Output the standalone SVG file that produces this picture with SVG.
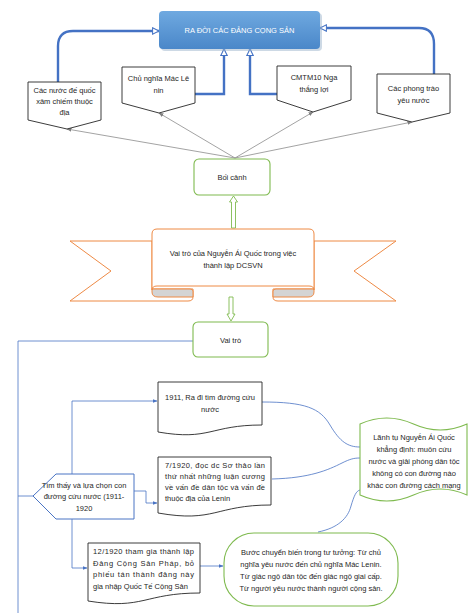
<svg xmlns="http://www.w3.org/2000/svg" width="474" height="613" viewBox="0 0 474 613">
<style>
text{font-family:"Liberation Sans",Arial,sans-serif;font-size:7.5px;fill:#262626}
.c{text-anchor:middle}
.w{fill:#ffffff}
.box{fill:#ffffff;stroke:#262626;stroke-width:0.9}
.gbox{fill:#ffffff;stroke:#7fba4f;stroke-width:1.1}
.orb{fill:#ffffff;stroke:#ee8a45;stroke-width:1}
.thick{fill:none;stroke:#4472c4;stroke-width:2.4}
.thin{fill:none;stroke:#4a74c4;stroke-width:0.8}
.gray{fill:none;stroke:#8c8c8c;stroke-width:0.8}
</style>
<defs>
<linearGradient id="bg" x1="0" y1="0" x2="0" y2="1">
<stop offset="0" stop-color="#6fa9e0"/>
<stop offset="1" stop-color="#4a87c9"/>
</linearGradient>
<marker id="open" viewBox="0 0 10 10" refX="9" refY="5" markerWidth="8" markerHeight="8" markerUnits="userSpaceOnUse" orient="auto">
<path d="M1,1 L9,5 L1,9 Z" fill="#ffffff" stroke="#4472c4" stroke-width="1.3"/>
</marker>
<marker id="ga" viewBox="0 0 10 10" refX="9" refY="5" markerWidth="5" markerHeight="5" markerUnits="userSpaceOnUse" orient="auto">
<path d="M0,1 L10,5 L0,9 Z" fill="#7f7f7f"/>
</marker>
<marker id="ba" viewBox="0 0 10 10" refX="9" refY="5" markerWidth="5" markerHeight="5" markerUnits="userSpaceOnUse" orient="auto">
<path d="M0,1 L10,5 L0,9 Z" fill="#4a74c4"/>
</marker>
</defs>
<rect width="474" height="613" fill="#ffffff"/>

<g id="connectors">
<path class="thick" d="M58,82 V46 Q58,31 73,31 H159" marker-end="url(#open)"/>
<path class="thick" d="M434,74 V44 Q434,28 419,28 H320" marker-end="url(#open)"/>
<path class="thick" d="M195,94 H224 V49" marker-end="url(#open)"/>
<path class="thick" d="M277,94 H250 V49" marker-end="url(#open)"/>
<path class="gray" d="M235,158 L67,129" marker-end="url(#ga)"/>
<path class="gray" d="M235,158 L159,113" marker-end="url(#ga)"/>
<path class="gray" d="M235,158 L313,112" marker-end="url(#ga)"/>
<path class="gray" d="M235,158 L412,122" marker-end="url(#ga)"/>
<path d="M231.5,228 V202 H229.5 L233.5,196 L237.5,202 H235.5 V228 Z" fill="#ffffff" stroke="#7fba4f" stroke-width="0.9"/>
<path d="M229,297 V314 H227 L231,321 L235,314 H233 V297 Z" fill="#ffffff" stroke="#7fba4f" stroke-width="0.9"/>
<path class="thin" d="M193,341 H18 V613"/>
<path class="thin" d="M18,496 H33"/>
<path class="thin" d="M72,474 V401 H157" marker-end="url(#ba)"/>
<path class="thin" d="M134,491 H146 V503 H157" marker-end="url(#ba)"/>
<path class="thin" d="M72,519 V568 H87" marker-end="url(#ba)"/>
<path class="thin" d="M200,566 H223" marker-end="url(#ba)"/>
<path class="thin" d="M262,402 C305,402 320,408 330,425 C340,442 348,447 360,447"/>
<path class="thin" d="M272,479 C310,478 328,470 342,463 C350,459 354,458 360,458"/>
<path class="thin" d="M318,532 C338,528 348,518 351,506 C354,496 356,491 360,490"/>
</g>

<g id="node-title">
<rect x="161" y="13" width="161" height="38" rx="4" fill="#9bb3cc" opacity="0.5"/>
<rect x="159" y="11" width="161" height="38" rx="4" fill="url(#bg)"/>
<text class="c w" x="239.5" y="33">RA ĐỜI CÁC ĐẢNG CỌNG SẢN</text>
</g>

<g id="node-1">
<path class="box" d="M28,82 H101 V120 L67,129 L28,120 Z"/>
<text class="c" x="64.5" y="93">Các nước đế quốc</text>
<text class="c" x="64.5" y="104">xâm chiếm thuộc</text>
<text class="c" x="64.5" y="115">địa</text>
</g>

<g id="node-2">
<path class="box" d="M122,67 H195 V103 L159,113 L122,103 Z"/>
<text class="c" x="158.5" y="81">Chủ nghĩa Mác Lê</text>
<text class="c" x="158.5" y="93">nin</text>
</g>

<g id="node-3">
<path class="box" d="M277,66 H351 V100 L313,112 L277,100 Z"/>
<text class="c" x="314" y="80">CMTM10 Nga</text>
<text class="c" x="314" y="92">thắng lợi</text>
</g>

<g id="node-4">
<path class="box" d="M377,74 H450 V113 L412,122 L377,113 Z"/>
<text class="c" x="413.5" y="91">Các phong trào</text>
<text class="c" x="413.5" y="103">yêu nước</text>
</g>

<g id="node-boicanh">
<rect class="gbox" x="194" y="159" width="76" height="36" rx="5"/>
<text class="c" x="232" y="180">Bối cảnh</text>
</g>

<g id="node-ribbon">
<path class="orb" d="M152,241 H70 L111,271 L70,301 H188 Q193,301 193,297 V289 H152 Z"/>
<path class="orb" d="M314,241 H396 L354,271 L396,301 H278 Q273,301 273,297 V289 H314 Z"/>
<path d="M152,289 V292 Q152,297 158,297 H193 V291 Q193,289 190,289 Z" fill="#d4d4d4" stroke="#ee8a45" stroke-width="1"/>
<path d="M314,289 V292 Q314,297 308,297 H273 V291 Q273,289 276,289 Z" fill="#d4d4d4" stroke="#ee8a45" stroke-width="1"/>
<path class="orb" d="M152,290 V234 Q152,229 157,229 H309 Q314,229 314,234 V290 Q314,286 309,286 H157 Q152,286 152,290 Z"/>
<text class="c" x="233" y="256">Vai trò của Nguyễn Ái Quốc trong việc</text>
<text class="c" x="233" y="268">thành lập DCSVN</text>
</g>

<g id="node-vaitro">
<rect class="gbox" x="193" y="322" width="75" height="35" rx="5"/>
<text class="c" x="230.5" y="343">Vai trò</text>
</g>

<g id="node-timthay">
<path fill="#ffffff" stroke="#4a74c4" stroke-width="1" d="M33,496 L56,474 H134 V519 H56 Z"/>
<text class="c" x="84" y="488">Tìm thấy và lựa chọn con</text>
<text class="c" x="84" y="499">đường cứu nước (1911-</text>
<text class="c" x="84" y="511">1920</text>
</g>

<g id="node-1911">
<path class="box" d="M158,382 H262 V425 C210,425 210,441 158,432 Z"/>
<text class="c" x="210" y="400">1911, Ra đi tìm đường cứu</text>
<text class="c" x="210" y="412">nước</text>
</g>

<g id="node-71920">
<path class="box" d="M158,457 H271 V505 C215,505 215,523 158,513 Z"/>
<text x="165" y="468" textLength="100" lengthAdjust="spacing">7/1920, đọc dc Sơ thảo lần</text>
<text x="165" y="479" textLength="100" lengthAdjust="spacing">thứ nhất những luận cương</text>
<text x="165" y="490" textLength="100" lengthAdjust="spacing">về vấn đề dân tộc và vấn đề</text>
<text x="165" y="501">thuộc địa của Lenin</text>
</g>

<g id="node-121920">
<path class="box" d="M88,543 H200 V593 C144,593 144,610 88,601 Z"/>
<text x="93" y="554" textLength="101" lengthAdjust="spacing">12/1920 tham gia thành lập</text>
<text x="93" y="566" textLength="101" lengthAdjust="spacing">Đảng Cộng Sản Pháp, bỏ</text>
<text x="93" y="577" textLength="101" lengthAdjust="spacing">phiếu tán thành đảng này</text>
<text x="93" y="589">gia nhập Quốc Tế Cộng Sản</text>
</g>

<g id="node-lanhtu">
<path class="gbox" d="M360,424 Q386.75,412 413.5,424 Q440.25,436 467,424 V495 Q440.25,483 413.5,495 Q386.75,507 360,495 Z"/>
<text class="c" x="414" y="440">Lãnh tụ Nguyễn Ái Quốc</text>
<text class="c" x="414" y="452">khẳng định: muôn cứu</text>
<text class="c" x="414" y="464">nước và giải phóng dân tộc</text>
<text class="c" x="414" y="476">không có con đường nào</text>
<text class="c" x="414" y="488">khác con đường cách mạng</text>
</g>

<g id="node-buocchuyen">
<rect class="gbox" x="224" y="533" width="174" height="73" rx="30"/>
<text class="c" x="311" y="555">Bước chuyển biến trong tư tưởng: Từ chủ</text>
<text class="c" x="311" y="567">nghĩa yêu nước đến chủ nghĩa Mác Lenin.</text>
<text class="c" x="311" y="579">Từ giác ngộ dân tộc đến giác ngộ giai cấp.</text>
<text class="c" x="311" y="591">Từ người yêu nước thành người cộng  sản.</text>
</g>
</svg>
